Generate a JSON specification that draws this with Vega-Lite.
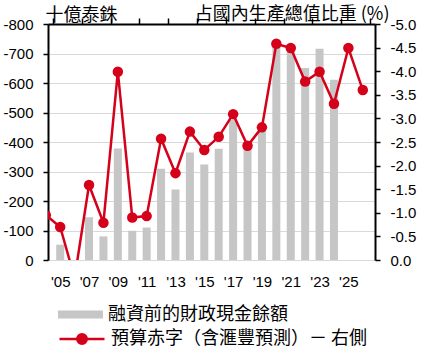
{
  "$schema": "https://vega.github.io/schema/vega-lite/v6.json",
  "width": 327,
  "height": 236,
  "autosize": {"type": "none"},
  "padding": {"left": 48, "top": 24, "right": 51, "bottom": 92},
  "datasets": {
    "bars": [
      {"year": 2005, "value": -52},
      {"year": 2006, "value": 0},
      {"year": 2007, "value": -145},
      {"year": 2008, "value": -80},
      {"year": 2009, "value": -378},
      {"year": 2010, "value": -99},
      {"year": 2011, "value": -110},
      {"year": 2012, "value": -309},
      {"year": 2013, "value": -239},
      {"year": 2014, "value": -364},
      {"year": 2015, "value": -324},
      {"year": 2016, "value": -377},
      {"year": 2017, "value": -475},
      {"year": 2018, "value": -378},
      {"year": 2019, "value": -440},
      {"year": 2020, "value": -735},
      {"year": 2021, "value": -712},
      {"year": 2022, "value": -651},
      {"year": 2023, "value": -716},
      {"year": 2024, "value": -611}
    ],
    "deficit": [
      {"year": 2004, "value": -0.95},
      {"year": 2005, "value": -0.70},
      {"year": 2006, "value": 0.38},
      {"year": 2007, "value": -1.59},
      {"year": 2008, "value": -0.79},
      {"year": 2009, "value": -3.99},
      {"year": 2010, "value": -0.90},
      {"year": 2011, "value": -0.93},
      {"year": 2012, "value": -2.57},
      {"year": 2013, "value": -1.84},
      {"year": 2014, "value": -2.72},
      {"year": 2015, "value": -2.33},
      {"year": 2016, "value": -2.61},
      {"year": 2017, "value": -3.09},
      {"year": 2018, "value": -2.42},
      {"year": 2019, "value": -2.81},
      {"year": 2020, "value": -4.58},
      {"year": 2021, "value": -4.49},
      {"year": 2022, "value": -3.78},
      {"year": 2023, "value": -3.99},
      {"year": 2024, "value": -3.31},
      {"year": 2025, "value": -4.49},
      {"year": 2026, "value": -3.60}
    ]
  },
  "layer": [
    {
      "data": {"name": "bars"},
      "mark": {"type": "bar", "size": 8, "clip": true},
      "encoding": {
        "x": {
          "field": "year", "type": "quantitative",
          "scale": {"domain": [2004.5, 2026.5], "nice": false, "zero": false},
          "axis": {
            "values": [2005, 2007, 2009, 2011, 2013, 2015, 2017, 2019, 2021, 2023, 2025],
            "labelExpr": "\"'\" + substring(toString(datum.value), 2)",
            "ticks": false, "tickSize": 0, "domain": false, "grid": false,
            "labelPadding": 14, "title": null, "labelFlush": false, "labelOverlap": false
          }
        },
        "y": {
          "field": "value", "type": "quantitative",
          "scale": {"domain": [-800, 0], "reverse": true, "nice": false},
          "axis": {
            "orient": "left",
            "values": [0, -100, -200, -300, -400, -500, -600, -700, -800],
            "format": "d",
            "grid": true, "gridColor": "#d9d9d9", "gridWidth": 1,
            "tickSize": 5, "labelPadding": 10,
            "title": "十億泰銖", "titleAngle": 0, "titleAlign": "left", "titleBaseline": "alphabetic",
            "titleX": -3, "titleY": -3.5
          }
        },
        "fill": {
          "datum": "融資前的財政現金餘額", "type": "nominal",
          "scale": {"range": ["#c6c6c6"]},
          "legend": {
            "title": null, "orient": "none", "legendX": 10, "legendY": 268, "padding": 0,
            "symbolType": "M-1,-0.18H1V0.18H-1Z", "symbolSize": 2025, "symbolStrokeWidth": 0,
            "labelOffset": 5
          }
        }
      }
    },
    {
      "data": {"name": "deficit"},
      "encoding": {
        "x": {
          "field": "year", "type": "quantitative",
          "axis": {
            "values": [2004.5, 2006.5, 2008.5, 2010.5, 2012.5, 2014.5, 2016.5, 2018.5, 2020.5, 2022.5, 2024.5, 2026.5],
            "labels": false, "ticks": true, "tickSize": 6, "domain": true, "grid": false, "title": null
          }
        },
        "y": {
          "field": "value", "type": "quantitative",
          "scale": {"domain": [-5, 0], "reverse": true, "nice": false},
          "axis": {
            "orient": "right",
            "values": [0, -0.5, -1, -1.5, -2, -2.5, -3, -3.5, -4, -4.5, -5],
            "format": ".1f",
            "grid": false, "tickSize": 5, "labelPadding": 10,
            "title": "占國內生產總值比重 (%)", "titleAngle": 0, "titleAlign": "right", "titleBaseline": "alphabetic",
            "titleX": 14, "titleY": -5
          }
        }
      },
      "layer": [
        {
          "mark": {"type": "line", "clip": true, "strokeWidth": 2.5},
          "encoding": {
            "stroke": {
              "datum": "預算赤字（含滙豐預測）－ 右側", "type": "nominal",
              "scale": {"range": ["#d50019"]},
              "legend": {
                "title": null, "orient": "none", "legendX": 10, "legendY": 291, "padding": 0,
                "symbolType": "M-1,0H1M0.21,0A0.21,0.21,0,1,1,-0.21,0A0.21,0.21,0,1,1,0.21,0Z",
                "symbolSize": 2025, "symbolStrokeWidth": 2.5,
                "labelOffset": 5,
                "encode": {"symbols": {"update": {"fill": {"value": "#d50019"}, "stroke": {"value": "#d50019"}}}}
              }
            }
          }
        },
        {
          "mark": {"type": "point", "filled": true, "size": 110, "opacity": 1, "color": "#d50019", "clip": true}
        }
      ]
    }
  ],
  "resolve": {"scale": {"y": "independent"}, "axis": {"x": "independent"}},
  "config": {
    "view": {"stroke": null},
    "locale": {"number": {"decimal": ".", "thousands": ",", "grouping": [3], "currency": ["$", ""], "minus": "-"}},
    "axis": {
      "labelFont": "Liberation Sans", "labelFontSize": 15, "labelColor": "#000",
      "domainColor": "#000", "domainWidth": 2, "tickColor": "#000", "tickWidth": 1.5,
      "titleFont": "Noto Sans CJK TC", "titleFontSize": 18, "titleFontWeight": "normal", "titleColor": "#000"
    },
    "legend": {
      "labelFont": "Noto Sans CJK TC", "labelFontSize": 18, "labelColor": "#000", "labelLimit": 400
    }
  }
}
